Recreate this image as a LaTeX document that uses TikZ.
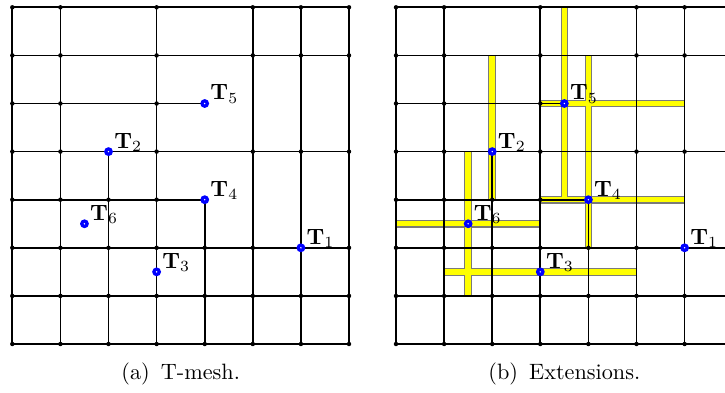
\documentclass[tikz,border=0pt]{standalone}
\usepackage{amsmath,amssymb}
\usepackage{xcolor}
\usepackage{tikz}
\usetikzlibrary{calc,positioning}
\definecolor{tblue}{HTML}{0000FF}
\definecolor{extyel}{HTML}{FFFF00}
\definecolor{extedge}{HTML}{7A7A7A}
\newcommand{\extw}{0.068}
\newcommand{\exti}{0.012}
\tikzset{
  ml/.style={line width=0.75pt,black},
  extb/.style={draw=extedge,fill=extyel,line width=0.5pt},
  tl/.style={anchor=base west,inner sep=0pt,xshift=2.4pt,yshift=1.6pt},
  captxt/.style={anchor=base,inner sep=0pt}
}

\begin{document}
\begin{tikzpicture}[x=21.65pt,y=21.65pt]
\useasboundingbox (-0.256,-0.998) rectangle (14.817,7.152);
% extensions, panel (b)
\begin{scope}[shift={(7.977,0)}]
\foreach \i/\ja/\jb in {3.5/3/7,4/2/6,2/3/6,1.5/1/4}
  \filldraw[extb] ({\i-\extw},\ja) rectangle ({\i+\extw},\jb);
\foreach \j/\ia/\ib in {5/3/6,3/3/6,2.5/0/3,1.5/1/5}
  \filldraw[extb] (\ia,{\j-\extw}) rectangle (\ib,{\j+\extw});
\foreach \i/\ja/\jb in {3.5/3/7,4/2/6,2/3/6,1.5/1/4}
  \fill[extyel] ({\i-\extw+\exti},{\ja+\exti}) rectangle ({\i+\extw-\exti},{\jb-\exti});
\foreach \j/\ia/\ib in {5/3/6,3/3/6,2.5/0/3,1.5/1/5}
  \fill[extyel] ({\ia+\exti},{\j-\extw+\exti}) rectangle ({\ib-\exti},{\j+\extw-\exti});
\end{scope}
% the two T-meshes
\foreach \pn/\sx/\tf/\xr/\ct in {a/0/4/7.3/T-mesh., b/7.977/3.5/6.84/Extensions.}{
\begin{scope}[shift={(\sx,0)}]
\begin{scope}
\clip (-0.3,-0.3) rectangle (\xr,7.3);
\coordinate (\pn1) at (6,2);
\coordinate (\pn2) at (2,4);
\coordinate (\pn3) at (3,1.5);
\coordinate (\pn4) at (4,3);
\coordinate (\pn5) at (\tf,5);
\coordinate (\pn6) at (1.5,2.5);
\foreach \j in {0,1,2,4,6,7} \draw[ml] (0,\j) -- (7,\j);
\foreach \i in {0,1,3,5,6,7} \draw[ml] (\i,0) -- (\i,7);
\draw[ml] (0,5) -- (\pn5);
\draw[ml] (0,3) -- (\pn4);
\draw[ml] (2,0) -- (\pn2);
\draw[ml] (4,0) -- (\pn4);
\foreach \j/\row in {7/{0,1,3,5,6,7},6/{0,1,3,5,6,7},5/{0,1,3},4/{0,1,3,5,6,7},
    3/{0,1,2,3},2/{0,1,2,3,4,5,7},1/{0,1,2,3,4,5,6,7},0/{0,1,2,3,4,5,6,7}}
  \foreach \i in \row \fill (\i,\j) circle (1pt);
\foreach \k in {1,...,6}{
  \fill[tblue] (\pn\k) circle (2pt);
  \fill[white] (\pn\k) circle (0.35pt);
  \node[tl] (l\pn\k) at (\pn\k) {$\mathbf{T}_{\k}$};
}
\end{scope}
\node[captxt] (cap\pn) at (3.5,-0.748) {(\pn)\enspace \ct};
\end{scope}
}
\end{tikzpicture}
\end{document}
